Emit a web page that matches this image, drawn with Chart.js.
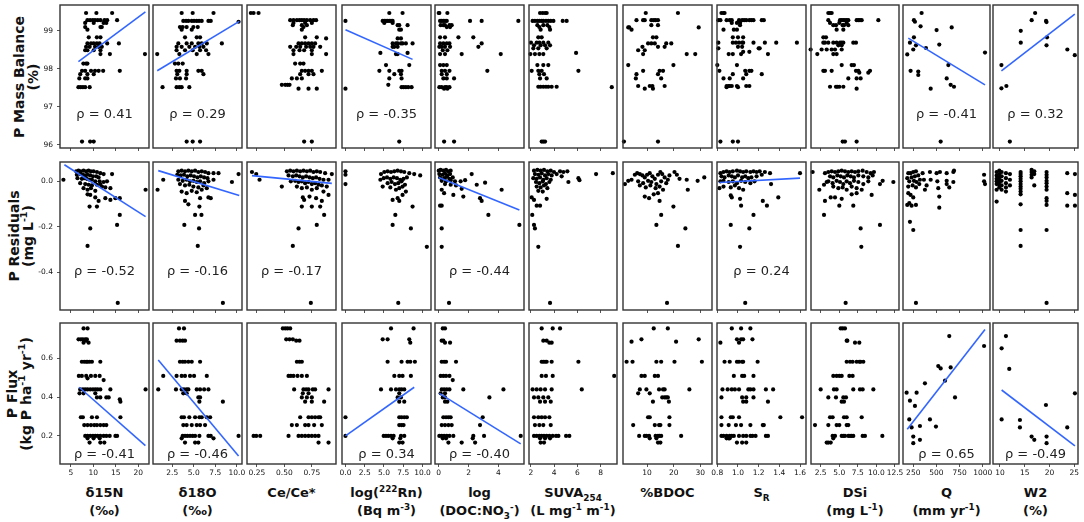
<!DOCTYPE html>
<html>
<head>
<meta charset="utf-8">
<script src="https://cdn.jsdelivr.net/npm/chart.js@4.4.1/dist/chart.umd.min.js"></script>
<style>
  body { margin: 0; background: #fff; width: 1084px; height: 522px; position: relative; overflow: hidden; font-family: "DejaVu Sans", Verdana, sans-serif; color: #111; }
  canvas.panel { position: absolute; }
  .ytitle { position: absolute; font-weight: bold; font-size: 14px; line-height: 14px; text-align: center; white-space: nowrap; transform: translate(-50%, -50%) rotate(-90deg); }
  .xtitle { position: absolute; font-weight: bold; font-size: 13px; line-height: 18px; text-align: center; white-space: nowrap; transform: translateX(-50%); }
  sup, sub { font-size: 68%; line-height: 0; }
</style>
</head>
<body>
<script>
// Helpers to turn the grouped readings into {x, y} points
function levels(rows) { return rows.flatMap(([y, xs]) => xs.map(x => ({ x: x, y: y }))); }
function columns(rows) { return rows.flatMap(([x, ys]) => ys.map(y => ({ x: x, y: y }))); }
function pairs(list) { return list.map(([x, y]) => ({ x: x, y: y })); }
function line(list) { return list ? pairs(list) : null; }

// ---------- Axis setup ----------
const xNames = ['δ15N<br>(‰)', 'δ18O<br>(‰)', 'Ce/Ce*', 'log(<sup>222</sup>Rn)<br>(Bq m<sup>-3</sup>)',
  'log<br>(DOC:NO<sub>3</sub><sup>-</sup>)', 'SUVA<sub>254</sub><br>(L mg<sup>-1</sup> m<sup>-1</sup>)', '%BDOC',
  'S<sub>R</sub>', 'DSi<br>(mg L<sup>-1</sup>)', 'Q<br>(mm yr<sup>-1</sup>)', 'W2<br>(%)'];
const yNames = ['P Mass Balance<br>(%)', 'P Residuals<br>(mg L<sup>-1</sup>)', 'P Flux<br>(kg P ha<sup>-1</sup> yr<sup>-1</sup>)'];

const xRanges = [[2.6, 22.4], [0.26, 10.6], [0.16, 0.97], [-0.45, 11.1], [-0.25, 5.72], [1.83, 9.4],
  [0.95, 34.4], [0.797, 1.658], [1.2, 13.04], [139, 1079], [8.6, 25.75]];
const xTicks = [[5, 10, 15, 20], [2.5, 5, 7.5, 10], [0.25, 0.5, 0.75], [0, 2.5, 5, 7.5, 10], [0, 2, 4], [2, 4, 6, 8],
  [10, 20, 30], [0.8, 1.0, 1.2, 1.4, 1.6], [2.5, 5, 7.5, 10, 12.5], [250, 500, 750, 1000], [10, 15, 20, 25]];
const xTickLabels = [['5', '10', '15', '20'], ['2.5', '5.0', '7.5', '10.0'], ['0.25', '0.50', '0.75'],
  ['0.0', '2.5', '5.0', '7.5', '10.0'], ['0', '2', '4'], ['2', '4', '6', '8'], ['10', '20', '30'],
  ['0.8', '1.0', '1.2', '1.4', '1.6'], ['2.5', '5.0', '7.5', '10.0', '12.5'], ['250', '500', '750', '1000'],
  ['10', '15', '20', '25']];

const yRanges = [[95.92, 99.68], [-0.567, 0.084], [0.056, 0.78]];
const yTicks = [[96, 97, 98, 99], [-0.4, -0.2, 0.0], [0.2, 0.4, 0.6]];
const yTickLabels = [['96', '97', '98', '99'], ['-0.4', '-0.2', '0.0'], ['0.2', '0.4', '0.6']];

// ---------- Row 1: P mass balance (%) ----------
const balance_d15N = levels([[99.47, [8.4, 10.7, 14.2]], [99.28, [8.7, 9.3, 9.9, 10.4, 11.0, 11.6, 12.5, 13.1, 15.3]],
  [99.21, [8.2, 10.1, 12.3, 12.9]], [99.10, [8.2, 11.6, 11.9]], [99.03, [8.7]], [98.83, [9.0, 10.8, 11.6]],
  [98.67, [8.7, 9.5, 10.1, 10.8, 11.4, 13.1, 15.7]], [98.58, [8.4, 9.2, 10.4, 11.2, 11.9]], [98.49, [8.2, 8.7, 10.1, 11.6]],
  [98.39, [11.6, 13.7, 21.5]], [98.14, [7.8, 8.4, 8.7]], [97.95, [7.5, 8.2, 9.5, 10.4, 11.2, 12.2, 15.9]],
  [97.86, [7.1, 8.7, 10.1]], [97.75, [6.9, 8.2, 8.7]], [97.52, [6.7, 7.2, 7.7, 8.2, 9.2]], [96.09, [7.5, 9.3, 10.1]]]);
const balance_d18O = levels([[99.47, [3.59, 4.87, 7.29]], [99.26, [3.78, 4.1, 4.37, 4.76, 5.03, 5.34, 5.61, 5.92, 6.7, 6.97]],
  [99.24, [10.2]], [99.10, [3.39, 3.71, 4.17, 4.95, 5.46]], [99.03, [3.59, 4.76]], [98.83, [3.98, 5.34, 5.73]],
  [98.67, [3.2, 4.17, 4.76, 5.53, 5.92, 6.51, 8.26]], [98.58, [3.0, 3.59, 4.48, 5.15, 5.65, 6.12]],
  [98.49, [3.0, 3.98, 4.87, 5.73, 6.43]], [98.39, [0.75, 3.32, 5.34, 6.7]], [98.14, [2.81, 3.2, 3.71]],
  [97.95, [3.0, 3.32, 4.17, 5.53, 5.92]], [97.86, [3.08, 4.17, 6.12]], [97.75, [2.93, 3.39, 4.1]],
  [97.52, [1.37, 3.0, 3.32, 3.59, 4.48]], [96.09, [4.17, 4.87, 5.73]]]);
const balance_ce = levels([[99.47, [0.195, 0.22, 0.265]], [99.28, [0.553, 0.583, 0.614, 0.638, 0.659, 0.68, 0.705, 0.735, 0.765, 0.789]],
  [99.21, [0.583, 0.689, 0.75]], [99.15, [0.577, 0.659, 0.705]], [99.10, [0.674]], [99.03, [0.659]], [98.83, [0.689, 0.795]],
  [98.80, [0.88]], [98.67, [0.629, 0.659, 0.689, 0.72, 0.75, 0.78]], [98.58, [0.553, 0.608, 0.644, 0.698, 0.735, 0.765, 0.826]],
  [98.49, [0.583, 0.638, 0.68, 0.75]], [98.39, [0.583, 0.75, 0.88]], [98.14, [0.598, 0.644, 0.674]],
  [97.95, [0.659, 0.689, 0.72, 0.75, 0.841]], [97.86, [0.644, 0.72, 0.765]], [97.75, [0.568, 0.614, 0.659]],
  [97.58, [0.477, 0.508, 0.529, 0.547]], [97.48, [0.629, 0.72, 0.795]], [96.09, [0.68, 0.75]]]);
const balance_rn = levels([[99.47, [5.69, 7.41]], [99.26, [0, 4.83, 5.04, 5.26, 5.47, 5.69, 5.91, 6.12]], [99.21, [5.04, 6.12]],
  [99.15, [6.77, 6.98, 8.06]], [99.03, [6.98, 7.2]], [98.80, [6.77, 7.2]], [98.67, [6.12, 6.55, 6.77, 7.2, 7.41, 7.84, 8.71]],
  [98.58, [6.12, 6.34, 6.77]], [98.42, [4.53, 8.06]], [98.39, [6.55, 6.77]], [98.10, [5.26, 8.28]],
  [97.95, [4.4, 5.69, 6.98, 7.28]], [97.86, [6.34, 7.2]], [97.75, [5.69, 7.28]], [97.58, [5.56]],
  [97.52, [7.28, 7.54, 7.84, 8.15, 8.58]], [97.48, [0]], [96.09, [6.98]]]);
const balance_doc = levels([[99.47, [0.0, 0.04, 0.58]], [99.26, [0.09, 0.2, 0.31, 0.42, 0.54, 2.1, 2.88, 5.34]],
  [99.15, [0.13, 0.31, 0.42, 0.72, 0.87]], [99.10, [0.54, 0.76]], [98.83, [0.09, 0.42, 1.32, 2.32]],
  [98.67, [0.09, 0.31, 0.54, 0.72, 2.88]], [98.58, [0.04, 0.2, 0.42, 0.76, 2.66]], [98.49, [0.27, 0.58]],
  [98.39, [0.09, 0.42, 1.54, 4.16]], [98.10, [0.09, 0.31, 0.54]], [97.95, [0.2, 0.42, 0.72, 3.26]], [97.86, [0.2, 0.54]],
  [97.75, [0.31, 0.54, 1.03]], [97.52, [0.04, 0.2, 0.42, 0.54, 0.72]], [97.48, [0.36, 0.58]], [96.09, [0.36, 1.03]]]);
const balance_suva = levels([[99.47, [2.78, 3.01, 3.21, 3.35]], [99.26, [2.14, 2.34, 2.55, 2.72, 2.92, 3.06, 3.29, 3.49, 3.7, 3.93, 4.73, 5.07]],
  [99.15, [2.55, 3.06, 3.41]], [99.10, [2.72, 3.58]], [99.03, [2.83, 3.64]], [98.83, [2.63, 2.92]],
  [98.69, [2.0, 2.49, 2.72, 3.06, 3.49]], [98.62, [2.26, 2.83, 3.21, 3.64]], [98.54, [2.2, 2.63, 3.35]], [98.42, [5.88]],
  [98.39, [1.95, 2.34, 2.72, 3.06]], [98.10, [2.55, 3.06, 3.49]], [97.95, [2.06, 2.63, 2.92, 6.08]], [97.86, [2.72, 3.12]],
  [97.75, [2.78, 3.35]], [97.53, [2.63, 2.83, 3.06, 3.29, 3.49, 3.78, 4.21]], [97.52, [8.95]], [96.09, [2.92, 3.06, 3.21]]]);
const balance_bdoc = levels([[99.47, [9.5, 21.6]], [99.28, [6.02, 8.51, 9.13, 11.6, 12.5, 13.2, 14.1]], [99.15, [11.6, 14.1]],
  [99.09, [2.92, 3.29, 29.4]], [99.03, [4.16]], [98.83, [12.2, 13.5]], [98.67, [10.37, 11.6, 12.9, 17.2, 19.1]],
  [98.58, [8.26, 14.1, 16.6]], [98.49, [6.65, 9.13]], [98.39, [8.51, 24.9, 28.1]], [98.10, [2.92, 19.9]],
  [97.95, [8.51, 14.7, 16.0]], [97.86, [6.02, 14.1]], [97.75, [5.78, 15.3]], [97.55, [6.65, 11.0, 12.0, 16.6]],
  [97.48, [9.13, 12.2]], [96.09, [1.3, 14.1]]]);
const balance_sr = levels([[99.47, [0.84, 0.86, 0.87]],
  [99.28, [0.81, 0.83, 0.89, 0.92, 0.94, 1.01, 1.04, 1.06, 1.08, 1.11, 1.13, 1.15, 1.23, 1.25]], [99.21, [0.94, 0.99, 1.02]],
  [99.15, [1.02]], [99.03, [0.86, 0.96, 0.99]], [98.83, [0.95, 1.0, 1.05]],
  [98.69, [0.81, 0.95, 0.98, 1.01, 1.04, 1.05, 1.15, 1.26, 1.37, 1.57]], [98.58, [1.0, 1.04]], [98.54, [0.81, 1.2, 1.21]],
  [98.45, [1.05, 1.11]], [98.39, [0.91, 0.95, 1.03, 1.29]], [98.10, [0.8, 0.99]], [97.95, [0.82, 1.07, 1.11, 1.13]],
  [97.86, [0.95, 1.08, 1.23]], [97.75, [0.86, 0.92, 1.05]], [97.55, [0.89, 0.91, 0.92, 0.94, 0.99, 1.08, 1.11]],
  [97.52, [0.89, 1.0]], [96.09, [0.83, 0.95, 1.0]]]);
const balance_dsi = levels([[99.47, [3.53, 3.76, 3.98]], [99.28, [3.53, 5.1, 5.33, 5.55, 5.77, 6.0, 6.22, 7.34, 7.57, 7.79, 8.02, 10.26]],
  [99.21, [3.76, 5.01, 6.0]], [99.15, [4.2, 4.56, 5.46, 5.64, 6.22]], [99.03, [4.65, 5.55]], [98.83, [2.86, 3.22]],
  [98.69, [2.86, 3.08, 3.53, 4.2, 4.65, 5.1, 5.33, 5.55, 6.89, 7.25]], [98.62, [4.88, 5.33]],
  [98.51, [1.15, 2.63, 3.31, 3.98, 4.43, 5.33]], [98.39, [2.05, 4.2, 4.65]], [98.10, [5.33, 6.67, 6.98]],
  [97.95, [2.86, 3.08, 3.98, 7.25, 7.57, 9.14]], [97.90, [7.7, 8.91]], [97.75, [6.22, 7.34, 7.88]],
  [97.53, [3.76, 4.56, 4.74, 5.01, 5.55]], [97.48, [7.34]], [96.09, [5.46, 5.77, 7.34]]]);
const balance_q = pairs([[340, 99.47], [257, 99.28], [268, 99.24], [502, 99.02], [665, 99.09], [329, 99.12], [257, 98.83],
  [214, 98.69], [279, 98.62], [387, 98.55], [531, 98.64], [185, 98.38], [250, 98.51], [1025, 98.43], [629, 98.10],
  [221, 97.95], [304, 97.93], [304, 97.84], [611, 97.75], [438, 97.48], [654, 97.58], [690, 97.53], [546, 96.09]]);
const balance_w2 = pairs([[17.1, 99.47], [16.4, 99.28], [19.3, 99.26], [19.4, 99.23], [14.2, 99.0], [14.2, 98.69],
  [19.5, 98.83], [19.4, 98.62], [23.6, 98.51], [25.1, 98.36], [10.3, 98.1], [10.3, 97.49], [11.3, 97.55], [12.0, 96.09]]);

const balanceFits = [[[6.7, 98.19], [21.6, 99.50]], [[0.75, 97.95], [10.28, 99.25]], null, [[0, 99.03], [8.71, 98.25]],
  null, null, null, null, null, [[196, 98.81], [1025, 97.58]], [[10.3, 97.95], [25.1, 99.44]]];
const balanceRho = ['ρ = 0.41', 'ρ = 0.29', '', 'ρ = -0.35', '', '', '', '', '', 'ρ = -0.41', 'ρ = 0.32'];

// ---------- Row 2: P residuals (mg/L) ----------
const resid_d15N = pairs([[3.36, 0.006], [6.19, 0.043], [6.72, 0.046], [7.24, 0.043], [7.84, 0.046], [8.43, 0.043], [8.96, 0.046],
  [9.48, 0.043], [10.07, 0.043], [10.82, 0.040], [11.57, 0.035], [12.31, 0.031], [14.18, 0.031], [6.34, 0.028], [7.09, 0.031],
  [7.69, 0.028], [8.21, 0.025], [8.73, 0.028], [9.33, 0.025], [9.93, 0.021], [10.67, 0.021], [11.19, 0.016], [6.49, 0.013],
  [7.46, 0.010], [7.99, 0.013], [8.58, 0.010], [9.18, 0.006], [9.7, 0.006], [10.45, -0.001], [11.42, -0.001], [12.31, -0.004],
  [13.06, -0.001], [7.09, -0.009], [8.21, -0.013], [8.96, -0.016], [9.7, -0.019], [10.82, -0.016], [11.57, -0.013],
  [11.94, -0.024], [7.84, -0.031], [8.73, -0.038], [9.48, -0.031], [10.45, -0.043], [12.69, -0.028], [13.81, -0.031],
  [8.73, -0.058], [9.33, -0.061], [10.45, -0.072], [11.19, -0.087], [12.69, -0.075], [13.81, -0.083], [14.93, -0.075],
  [15.9, -0.075], [9.18, -0.112], [10.82, -0.112], [15.9, -0.149], [9.33, -0.208], [15.3, -0.193], [8.73, -0.285],
  [21.64, -0.038], [15.45, -0.536]]);
const resid_d18O = pairs([[0.79, -0.038], [1.45, 0.006], [3.2, 0.043], [3.59, 0.046], [3.98, 0.043], [4.37, 0.046], [4.76, 0.043],
  [5.15, 0.046], [5.53, 0.040], [5.92, 0.043], [6.31, 0.040], [6.7, 0.035], [7.29, 0.035], [7.87, 0.035], [10.2, 0.031],
  [3.08, 0.028], [3.47, 0.025], [3.86, 0.028], [4.25, 0.021], [4.64, 0.025], [5.03, 0.021], [5.42, 0.016], [5.81, 0.021],
  [6.2, 0.016], [6.59, 0.013], [3.2, 0.006], [3.71, 0.001], [4.17, 0.006], [4.56, -0.001], [4.95, 0.001], [5.34, -0.004],
  [5.73, -0.001], [6.2, -0.009], [6.7, -0.001], [7.29, 0.006], [9.43, -0.004], [3.39, -0.013], [3.98, -0.019], [4.48, -0.016],
  [4.95, -0.024], [5.53, -0.028], [6.12, -0.019], [6.51, -0.031], [3.59, -0.046], [4.17, -0.053], [4.76, -0.043],
  [5.34, -0.049], [5.92, -0.038], [3.98, -0.087], [4.37, -0.102], [5.73, -0.075], [6.7, -0.072], [6.97, -0.075],
  [5.65, -0.112], [5.15, -0.149], [5.89, -0.149], [3.9, -0.193], [5.61, -0.208], [5.46, -0.285], [8.38, -0.536]]);
const resid_ce = pairs([[0.205, 0.040], [0.244, 0.031], [0.274, 0.006], [0.477, -0.024], [0.523, 0.043], [0.553, 0.046],
  [0.583, 0.043], [0.614, 0.046], [0.644, 0.043], [0.674, 0.046], [0.705, 0.043], [0.735, 0.046], [0.765, 0.040],
  [0.795, 0.043], [0.826, 0.040], [0.871, 0.035], [0.932, 0.031], [0.538, 0.025], [0.577, 0.021], [0.608, 0.025],
  [0.638, 0.021], [0.668, 0.016], [0.698, 0.021], [0.729, 0.016], [0.759, 0.013], [0.789, 0.016], [0.82, 0.010],
  [0.856, 0.006], [0.902, 0.006], [0.559, -0.001], [0.598, 0.001], [0.629, -0.004], [0.659, -0.001], [0.689, -0.009],
  [0.72, -0.004], [0.75, -0.013], [0.78, -0.009], [0.811, -0.016], [0.841, -0.019], [0.886, -0.024], [0.614, -0.024],
  [0.659, -0.031], [0.705, -0.028], [0.75, -0.038], [0.795, -0.031], [0.856, -0.046], [0.902, -0.061], [0.668, -0.072],
  [0.68, -0.083], [0.729, -0.068], [0.789, -0.075], [0.841, -0.087], [0.659, -0.112], [0.75, -0.112], [0.826, -0.112],
  [0.862, -0.149], [0.629, -0.208], [0.795, -0.193], [0.577, -0.285], [0.741, -0.536]]);
const resid_rn = pairs([[0, 0.043], [0, 0.028], [0, -0.013], [4.61, 0.031], [5.04, 0.040], [5.47, 0.043], [5.91, 0.040],
  [6.34, 0.043], [6.77, 0.046], [7.2, 0.043], [7.63, 0.040], [8.28, 0.035], [8.92, 0.031], [9.7, 0.025], [4.53, 0.006],
  [4.96, 0.013], [5.39, 0.016], [5.82, 0.010], [6.25, 0.016], [6.68, 0.013], [7.11, 0.006], [7.54, 0.010], [7.97, 0.016],
  [4.83, -0.024], [5.47, -0.009], [5.99, -0.004], [6.42, -0.013], [6.85, -0.009], [7.28, -0.001], [7.72, -0.016],
  [5.82, -0.028], [6.55, -0.038], [6.98, -0.031], [7.41, -0.024], [7.84, -0.046], [6.12, -0.083], [6.77, -0.075],
  [6.98, -0.087], [7.41, -0.061], [8.71, -0.112], [6.47, -0.149], [6.12, -0.193], [8.49, -0.208], [10.56, -0.289],
  [6.85, -0.536]]);
const resid_doc = pairs([[0.0, 0.046], [0.13, 0.049], [0.31, 0.046], [0.49, 0.049], [0.65, 0.043], [0.8, 0.046], [0.04, 0.031],
  [0.27, 0.028], [0.42, 0.034], [0.58, 0.025], [0.76, 0.031], [0.09, 0.016], [0.36, 0.013], [0.54, 0.019], [0.72, 0.010],
  [0.94, 0.016], [0.2, 0.001], [0.49, -0.001], [0.8, 0.004], [1.09, -0.001], [0.42, -0.013], [0.8, -0.016], [1.16, -0.019],
  [1.47, -0.001], [1.77, 0.004], [2.21, 0.031], [2.55, -0.016], [3.11, -0.007], [1.54, -0.034], [1.65, -0.068],
  [0.2, -0.038], [0.36, -0.053], [0.98, -0.061], [2.77, -0.075], [2.88, -0.087], [4.22, -0.038], [0.2, -0.108],
  [0.09, -0.108], [3.33, -0.149], [0.2, -0.208], [0.2, -0.289], [5.41, -0.193], [0.69, -0.536]]);
const resid_suva = pairs([[2.26, 0.046], [2.55, 0.049], [2.83, 0.046], [3.12, 0.049], [3.41, 0.043], [3.7, 0.046], [3.98, 0.040],
  [2.34, 0.031], [2.63, 0.028], [2.92, 0.034], [3.21, 0.025], [3.49, 0.031], [3.78, 0.025], [4.21, 0.031], [2.2, 0.013],
  [2.49, 0.010], [2.78, 0.016], [3.06, 0.006], [3.35, 0.013], [3.7, 0.006], [2.43, -0.004], [2.72, -0.009], [3.01, -0.001],
  [3.29, -0.013], [3.58, -0.004], [2.49, -0.024], [2.83, -0.028], [3.12, -0.019], [3.41, -0.031], [2.63, -0.043],
  [3.01, -0.046], [4.5, 0.043], [4.79, 0.040], [5.13, 0.043], [4.64, 0.021], [5.22, -0.004], [6.08, 0.013], [6.17, 0.004],
  [7.6, 0.031], [9.04, 0.035], [2.06, -0.072], [2.26, -0.083], [2.49, -0.108], [2.78, -0.108], [3.35, -0.078],
  [2.11, -0.149], [2.26, -0.193], [2.34, -0.208], [2.63, -0.289], [3.64, -0.536]]);
const resid_bdoc = pairs([[1.68, -0.013], [2.92, 0.001], [4.16, 0.006], [5.4, 0.028], [6.27, 0.035], [7.27, 0.031], [8.26, 0.025],
  [9.13, 0.016], [10.0, 0.028], [11.0, 0.035], [12.0, 0.021], [12.9, 0.010], [14.1, 0.028], [15.0, 0.040], [15.7, 0.031],
  [16.6, 0.016], [17.8, 0.006], [18.4, 0.025], [20.3, 0.040], [21.2, 0.028], [22.2, 0.010], [24.9, 0.006], [29.0, 0.001],
  [31.5, 0.016], [6.65, -0.001], [8.51, -0.009], [10.37, 0.001], [11.6, -0.004], [13.5, -0.013], [15.3, -0.001],
  [17.2, -0.009], [7.27, -0.019], [9.5, -0.028], [11.24, -0.019], [13.2, -0.031], [14.7, -0.024], [16.0, -0.038],
  [9.13, -0.068], [10.75, -0.075], [12.5, -0.058], [14.1, -0.053], [14.7, -0.087], [25.3, -0.038], [19.9, -0.112],
  [15.3, -0.149], [13.5, -0.193], [24.4, -0.208], [21.6, -0.285], [17.5, -0.536]]);
const resid_sr = pairs([[0.83, 0.035], [0.86, 0.040], [0.89, 0.043], [0.92, 0.040], [0.95, 0.043], [0.99, 0.046], [1.02, 0.043],
  [1.05, 0.040], [1.08, 0.043], [1.12, 0.040], [1.15, 0.043], [1.18, 0.040], [1.21, 0.043], [1.26, 0.040], [1.31, 0.035],
  [1.6, 0.035], [0.84, 0.021], [0.87, 0.016], [0.91, 0.025], [0.94, 0.021], [0.97, 0.016], [1.0, 0.025], [1.04, 0.016],
  [1.07, 0.021], [1.1, 0.013], [1.13, 0.016], [1.18, 0.021], [1.23, 0.028], [0.83, -0.001], [0.86, 0.001], [0.91, -0.004],
  [0.95, -0.001], [0.99, -0.009], [1.03, 0.001], [1.07, -0.004], [1.12, -0.009], [1.16, -0.001], [1.32, -0.013],
  [0.82, -0.031], [0.86, -0.024], [0.93, -0.028], [0.97, -0.019], [1.01, -0.031], [1.05, -0.038], [0.93, -0.063],
  [0.94, -0.072], [1.02, -0.078], [1.03, -0.108], [1.15, -0.149], [1.24, -0.087], [1.28, -0.108], [1.39, -0.072],
  [0.93, -0.193], [1.11, -0.208], [1.02, -0.289], [1.07, -0.536]]);
const resid_dsi = pairs([[1.42, 0.040], [2.32, -0.038], [2.95, -0.016], [3.31, -0.004], [3.08, -0.087], [3.85, -0.072],
  [4.43, -0.072], [5.01, -0.108], [5.33, -0.078], [2.95, -0.149], [6.89, -0.108], [6.67, -0.058], [7.34, -0.053],
  [8.02, -0.038], [9.36, -0.061], [10.48, -0.013], [10.84, 0.001], [12.28, -0.004], [7.88, -0.208], [7.97, -0.289],
  [10.48, -0.193], [5.86, -0.536], [3.08, 0.035], [3.53, 0.040], [3.98, 0.043], [4.43, 0.040], [4.88, 0.043], [5.33, 0.046],
  [5.77, 0.043], [6.22, 0.040], [6.67, 0.043], [7.12, 0.040], [7.57, 0.043], [8.15, 0.046], [8.69, 0.040], [9.23, 0.035],
  [9.67, 0.040], [3.76, 0.021], [4.2, 0.016], [4.74, 0.025], [5.19, 0.021], [5.64, 0.016], [6.09, 0.025], [6.54, 0.021],
  [6.98, 0.016], [7.57, 0.025], [8.24, 0.021], [8.91, 0.016], [9.5, 0.025], [3.53, -0.001], [4.11, -0.009], [4.65, 0.001],
  [5.1, -0.004], [5.55, -0.013], [6.0, -0.001], [6.45, -0.009], [6.98, 0.001], [7.57, -0.004], [8.24, -0.013],
  [8.91, -0.001], [4.2, -0.024], [4.88, -0.031], [5.46, -0.028], [6.0, -0.038], [6.67, -0.024], [7.34, -0.031]]);
const resid_q = pairs([[196, 0.035], [221, 0.035], [250, 0.040], [279, 0.043], [185, 0.013], [232, 0.016], [268, 0.021],
  [304, 0.025], [207, -0.001], [257, 0.001], [286, -0.004], [322, 0.006], [196, -0.024], [243, -0.019], [279, -0.028],
  [315, -0.013], [196, -0.053], [221, -0.061], [250, -0.072], [207, -0.097], [232, -0.108], [185, -0.105], [279, -0.105],
  [214, -0.179], [250, -0.215], [279, -0.536], [351, 0.035], [430, 0.040], [502, 0.035], [538, 0.040], [611, 0.035],
  [683, 0.040], [690, 0.046], [365, 0.006], [438, 0.006], [510, -0.001], [611, 0.001], [683, -0.004], [394, -0.019],
  [520, -0.031], [611, -0.013], [639, -0.028], [531, -0.068], [531, -0.117], [1015, 0.028], [1015, -0.001], [1025, -0.013],
  [376, -0.038]]);
const resid_w2 = columns([[9.33, [0.040, 0.025, 0.010, -0.001, -0.013, -0.038, -0.090]],
  [9.87, [0.046, 0.031, 0.016, 0.006, -0.004, -0.016, -0.028]], [10.34, [0.040, 0.021, 0.001, -0.019, -0.038]],
  [11.21, [0.035, 0.013, -0.009, -0.028, -0.046]], [12.02, [0.031, 0.006, -0.019]],
  [14.17, [0.040, 0.031, 0.021, 0.010, -0.001, -0.013, -0.024, -0.034, -0.046, -0.058, -0.102, -0.215, -0.285]],
  [16.39, [0.050, 0.040, 0.028, 0.016]], [16.93, [0.043, 0.031, -0.019]],
  [19.41, [0.040, 0.028, 0.016, 0.001, -0.009, -0.024, -0.038, -0.075, -0.087, -0.105, -0.215, -0.536]],
  [23.58, [0.035, -0.053, -0.108]], [25.13, [0.031, -0.061, -0.108]]]);

const residFits = [[[3.58, 0.072], [21.64, -0.156]], [[0.87, 0.046], [10.28, -0.063]], [[0.205, 0.024], [0.932, -0.010]],
  null, [[0, 0.016], [5.41, -0.127]], null, null, [[0.82, -0.006], [1.6, 0.013]], null, null, null];
const residRho = ['ρ = -0.52', 'ρ = -0.16', 'ρ = -0.17', '', 'ρ = -0.44', '', '', 'ρ = 0.24', '', '', ''];

// ---------- Row 3: P flux (kg P/ha/yr) ----------
const flux_d15N = levels([[0.752, [7.84, 8.73]], [0.696, [6.72, 7.24, 7.69, 8.21, 8.58]], [0.689, [8.43]], [0.679, [7.84, 8.96]],
  [0.581, [7.46, 7.99, 8.43, 8.73, 9.18, 9.7, 11.57]], [0.508, [6.79, 7.46, 8.43, 9.48, 10.45, 11.42]], [0.496, [8.73]],
  [0.487, [12.31]], [0.439, [7.09, 7.69, 8.21, 8.73, 9.33, 9.93, 10.45, 10.97, 11.57, 13.81, 21.64]],
  [0.419, [6.94, 7.84, 10.45]], [0.398, [10.82, 11.57, 12.91, 13.43]], [0.388, [15.9]], [0.376, [16.04]],
  [0.296, [7.24, 7.69, 9.7, 10.82, 16.04]], [0.256, [7.99, 8.73, 9.48, 10.22, 10.82, 11.57, 12.31, 12.91]],
  [0.200, [8.21, 8.73, 9.33, 9.93, 10.45, 10.97, 11.57, 12.31, 12.91, 13.66, 14.93, 15.3]], [0.188, [8.73, 10.07, 11.42]],
  [0.166, [9.18, 11.57, 12.46]]]);
const flux_d18O = levels([[0.752, [3.28, 3.86]], [0.689, [3.0, 3.39, 3.71, 3.98]], [0.581, [3.39, 3.71, 3.98, 4.37, 4.76, 5.73]],
  [0.508, [1.45, 3.0, 3.59, 3.98, 4.56, 5.03, 6.51]], [0.439, [0.87, 2.93, 3.59, 3.86, 4.17, 4.37, 5.34, 5.73, 6.2, 6.7]],
  [0.419, [3.78, 4.17]], [0.398, [5.53, 5.73]], [0.376, [5.65, 8.38]], [0.296, [3.59, 3.86, 4.48, 5.15, 5.65, 5.92, 6.51, 6.9]],
  [0.256, [3.78, 4.17, 4.76, 5.34, 5.73, 6.31]], [0.200, [3.71, 3.98, 4.25, 4.56, 4.87, 5.15, 5.65, 6.7, 6.97, 10.2]],
  [0.188, [3.59, 7.29]], [0.166, [3.98, 5.15, 5.53]]]);
const flux_ce = levels([[0.752, [0.486, 0.508, 0.529, 0.553]], [0.696, [0.517, 0.547, 0.577]], [0.689, [0.608, 0.638]],
  [0.581, [0.614, 0.638, 0.659]], [0.508, [0.538, 0.559, 0.583, 0.62, 0.659, 0.705]],
  [0.439, [0.589, 0.674, 0.698, 0.72, 0.759, 0.78, 0.902]], [0.419, [0.668, 0.72]], [0.398, [0.659, 0.705, 0.75]],
  [0.376, [0.689, 0.75, 0.862]], [0.296, [0.644, 0.72, 0.75, 0.78, 0.811, 0.826]],
  [0.256, [0.568, 0.614, 0.689, 0.72, 0.771, 0.841]],
  [0.200, [0.22, 0.244, 0.28, 0.538, 0.629, 0.659, 0.689, 0.72, 0.75, 0.78, 0.811]], [0.166, [0.811, 0.902]]]);
const flux_rn = levels([[0.752, [5.91, 8.84]], [0.696, [4.83, 5.47, 8.28]], [0.679, [8.41]], [0.581, [5.47, 7.28, 8.06, 8.41, 9.01]],
  [0.508, [6.34, 6.98, 7.41, 8.49]], [0.439, [4.61, 5.91, 6.55, 6.98, 7.28, 7.63]], [0.419, [6.98]], [0.398, [6.77, 7.2]],
  [0.376, [6.98, 7.63]], [0.296, [0, 6.98, 7.28, 7.63, 7.97]], [0.256, [6.98, 7.28, 7.54]],
  [0.200, [0, 4.96, 5.26, 5.56, 5.91, 6.25, 7.2, 7.63]], [0.188, [6.12, 7.11]], [0.166, [6.98, 7.41]]]);
const flux_doc = levels([[0.752, [0.27, 0.42]], [0.689, [0.2, 0.31]], [0.679, [0.42, 0.76]], [0.581, [0.2, 0.36, 0.49, 1.16]],
  [0.508, [0.13, 0.31, 0.49, 0.72]], [0.487, [0.94]], [0.439, [0.2, 0.36, 0.54, 0.72, 1.65, 4.34]], [0.419, [0.13, 0.42]],
  [0.398, [0.27, 0.42, 3.4]], [0.376, [0.42, 0.58]], [0.296, [0.31, 0.49, 0.65, 0.8, 2.95]], [0.256, [0.2, 0.42, 0.65, 0.87, 2.77]],
  [0.200, [0.04, 0.2, 0.36, 0.54, 0.72, 0.98, 2.32, 3.04, 5.5]], [0.188, [0.27, 0.49, 2.28]], [0.166, [0.65, 1.54, 2.44]]]);
const flux_suva = levels([[0.752, [2.92, 3.87, 4.5]], [0.689, [3.06, 3.35]], [0.679, [3.58, 3.78]],
  [0.581, [2.92, 3.06, 3.21, 3.35, 3.78, 6.08]], [0.508, [2.92, 3.29, 3.87, 9.16]], [0.439, [2.14, 2.49, 2.83, 3.21, 3.78, 6.37]],
  [0.398, [2.26, 2.63, 3.06, 3.49]], [0.376, [2.78, 3.21, 3.7]], [0.296, [2.26, 2.63, 2.92, 3.21, 3.58]],
  [0.256, [2.34, 2.72, 3.06, 3.7]], [0.200, [2.26, 2.49, 2.72, 2.92, 3.12, 3.35, 3.58, 3.87, 4.16, 4.36, 5.02, 5.3]],
  [0.188, [2.78, 3.21, 3.64]], [0.166, [2.83, 3.12]]]);
const flux_bdoc = levels([[0.752, [12.5, 17.8]], [0.696, [7.89, 29.4]], [0.684, [4.16, 20.9]], [0.581, [2.3, 4.53, 13.5, 15.3, 20.3, 30.6]],
  [0.508, [7.89, 9.13, 12.9, 14.1]], [0.439, [7.27, 9.75, 14.5, 16.0, 16.6, 25.9]], [0.419, [6.65, 11.0]],
  [0.398, [15.7, 16.6, 17.2, 17.8]], [0.376, [12.2, 18.2]], [0.296, [10.37, 11.0, 18.4]], [0.256, [4.78, 12.9, 14.5, 15.0, 18.4]],
  [0.200, [7.02, 9.13, 9.75, 10.75, 13.2, 14.1, 14.7, 15.3, 22.8]], [0.188, [11.0, 13.5]], [0.166, [14.1, 15.0]]]);
const flux_sr = levels([[0.752, [0.94, 1.03, 1.12]], [0.696, [0.99, 1.03, 1.05, 1.14]], [0.679, [0.83, 1.01]],
  [0.581, [0.87, 0.92, 0.99, 1.01, 1.04, 1.05, 1.19]], [0.508, [0.96, 1.04, 1.06, 1.15]],
  [0.439, [0.85, 0.9, 0.94, 0.97, 1.01, 1.1, 1.12, 1.15, 1.27, 1.34]], [0.398, [0.84, 1.04, 1.08, 1.15]],
  [0.376, [1.05, 1.08, 1.29]], [0.296, [0.84, 0.93, 0.95, 1.01, 1.41, 1.62]], [0.256, [0.84, 0.91, 0.98, 1.03, 1.12, 1.24, 1.25]],
  [0.200, [0.84, 0.86, 0.89, 0.92, 0.94, 0.96, 1.01, 1.05, 1.08, 1.12, 1.14, 1.17, 1.27, 1.29]], [0.188, [0.89, 0.91, 0.92]],
  [0.166, [0.99, 1.04, 1.08]]]);
const flux_dsi = levels([[0.752, [5.19, 5.46, 5.77]], [0.689, [6.0, 6.09]], [0.679, [7.12, 7.7]],
  [0.581, [6.0, 6.45, 6.8, 7.34, 7.7, 7.88, 8.24]], [0.508, [4.2, 4.65, 5.01, 5.33, 6.36, 6.8]],
  [0.439, [2.5, 4.29, 4.65, 6.89, 7.79, 8.15, 9.59]], [0.398, [3.53, 4.56, 5.55, 5.91]], [0.376, [5.33, 5.64]],
  [0.296, [3.76, 4.11, 5.64, 6.0, 8.02]], [0.256, [1.74, 3.53, 4.65, 5.01, 6.0, 6.22]],
  [0.200, [4.11, 4.43, 5.33, 5.55, 5.77, 6.22, 6.45, 6.67, 6.89, 8.15, 8.46, 10.8]], [0.188, [4.2]], [0.166, [3.31, 3.53, 3.85]]]);
const flux_q = pairs([[639, 0.713], [1015, 0.662], [520, 0.559], [546, 0.547], [654, 0.552], [593, 0.484], [376, 0.47],
  [286, 0.422], [178, 0.422], [214, 0.381], [268, 0.354], [701, 0.398], [207, 0.285], [430, 0.285], [322, 0.251],
  [232, 0.244], [495, 0.248], [250, 0.197], [322, 0.18], [250, 0.163]]);
const flux_w2 = pairs([[11.21, 0.713], [10.34, 0.65], [11.88, 0.544], [25.13, 0.419], [19.28, 0.359], [10.34, 0.285],
  [14.03, 0.282], [14.03, 0.244], [23.58, 0.244], [16.39, 0.197], [16.93, 0.18], [19.41, 0.197], [19.41, 0.163]]);

const fluxFits = [[[6.87, 0.45], [21.6, 0.15]], [[0.87, 0.59], [10.2, 0.097]], null, [[0, 0.2], [8.92, 0.45]],
  [[0.04, 0.419], [5.5, 0.159]], null, null, null, null, [[185, 0.234], [1025, 0.747]], [[10.34, 0.436], [25.13, 0.149]]];
const fluxRho = ['ρ = -0.41', 'ρ = -0.46', '', 'ρ = 0.34', 'ρ = -0.40', '', '', '', '', 'ρ = 0.65', 'ρ = -0.49'];

// ---------- Layout ----------
const colLeft = [60, 153, 247, 342, 435, 529, 623, 717, 811, 903, 993];
const colWidth = [89, 89, 89, 89, 89, 88, 89, 89, 88, 87, 85];
const rowTop = [5, 162, 323];
const rowHeight = [143, 148, 141];
const rhoPos = [0.77, 0.74, 0.93];
const yTitleX = [26, 21, 19];
const FONT = '"DejaVu Sans", Verdana, sans-serif';

document.addEventListener('DOMContentLoaded', function() {
  drawTitles();
  drawPanels();
});

// Axis titles as HTML text
function drawTitles() {
  yNames.forEach((name, r) => {
    const div = document.createElement('div');
    div.className = 'ytitle';
    div.innerHTML = name;
    div.style.left = yTitleX[r] + 'px';
    div.style.top = (rowTop[r] + rowHeight[r] / 2) + 'px';
    document.body.appendChild(div);
  });
  xNames.forEach((name, c) => {
    const div = document.createElement('div');
    div.className = 'xtitle';
    div.innerHTML = name;
    div.style.left = (colLeft[c] + colWidth[c] / 2) + 'px';
    div.style.top = '484px';
    document.body.appendChild(div);
  });
}

// rho label inside the panel
const rhoLabel = {
  id: 'rhoLabel',
  afterDatasetsDraw(chart, args, opts) {
    if (!opts.text) return;
    const a = chart.chartArea;
    const ctx = chart.ctx;
    ctx.save();
    ctx.font = '13px ' + FONT;
    ctx.fillStyle = '#222';
    ctx.textAlign = 'center';
    ctx.textBaseline = 'middle';
    ctx.fillText(opts.text, (a.left + a.right) / 2, a.top + opts.pos * (a.bottom - a.top));
    ctx.restore();
  }
};

// Panel frame
const panelBox = {
  id: 'panelBox',
  afterDraw(chart) {
    const a = chart.chartArea;
    const ctx = chart.ctx;
    ctx.save();
    ctx.strokeStyle = '#333';
    ctx.lineWidth = 1.4;
    ctx.strokeRect(a.left, a.top, a.right - a.left, a.bottom - a.top);
    ctx.restore();
  }
};

function drawPanels() {
  const rowData = [
    [balance_d15N, balance_d18O, balance_ce, balance_rn, balance_doc, balance_suva, balance_bdoc, balance_sr, balance_dsi, balance_q, balance_w2],
    [resid_d15N, resid_d18O, resid_ce, resid_rn, resid_doc, resid_suva, resid_bdoc, resid_sr, resid_dsi, resid_q, resid_w2],
    [flux_d15N, flux_d18O, flux_ce, flux_rn, flux_doc, flux_suva, flux_bdoc, flux_sr, flux_dsi, flux_q, flux_w2]
  ];
  const rowFits = [balanceFits, residFits, fluxFits];
  const rowRho = [balanceRho, residRho, fluxRho];

  for (let r = 0; r < 3; r++) {
    for (let c = 0; c < 11; c++) {
      const yAxisW = c === 0 ? 30 : 0;
      const padL = c === 0 ? 0 : 8;
      const padR = 10;
      const xAxisH = r === 2 ? 18 : 5;
      const canvas = document.createElement('canvas');
      canvas.className = 'panel';
      canvas.width = colWidth[c] + yAxisW + padL + padR;
      canvas.height = rowHeight[r] + 2 + xAxisH;
      canvas.style.left = (colLeft[c] - yAxisW - padL) + 'px';
      canvas.style.top = (rowTop[r] - 2) + 'px';
      document.body.appendChild(canvas);

      const datasets = [];
      const fit = line(rowFits[r][c]);
      if (fit) {
        datasets.push({ data: fit, showLine: true, borderColor: '#3366ff', borderWidth: 1.6, pointRadius: 0 });
      }
      datasets.push({ data: rowData[r][c], pointRadius: 2.1, pointBackgroundColor: '#000', pointBorderWidth: 0, clip: 3 });

      new Chart(canvas.getContext('2d'), {
        type: 'scatter',
        data: { datasets: datasets },
        options: {
          responsive: false,
          animation: false,
          events: [],
          layout: { padding: { top: 2, right: padR, bottom: 0, left: padL }, autoPadding: false },
          plugins: {
            legend: { display: false },
            tooltip: { enabled: false },
            rhoLabel: { text: rowRho[r][c], pos: rhoPos[r] }
          },
          scales: {
            x: {
              type: 'linear',
              min: xRanges[c][0],
              max: xRanges[c][1],
              afterBuildTicks: s => { s.ticks = xTicks[c].map(v => ({ value: v })); },
              afterFit: s => { s.height = xAxisH; s.paddingLeft = 0; s.paddingRight = 0; },
              grid: { display: true, drawOnChartArea: false, drawTicks: true, tickLength: 3, color: '#555', lineWidth: 1 },
              border: { display: false },
              ticks: {
                display: r === 2,
                autoSkip: false,
                maxRotation: 0,
                padding: 2,
                color: '#111',
                font: { family: FONT, size: 7.5 },
                callback: (v, i) => xTickLabels[c][i]
              }
            },
            y: {
              type: 'linear',
              display: c === 0,
              min: yRanges[r][0],
              max: yRanges[r][1],
              afterBuildTicks: s => { s.ticks = yTicks[r].map(v => ({ value: v })); },
              afterFit: s => {
                s.width = yAxisW;
                s.paddingTop = 0;
                s.paddingBottom = 0;
              },
              grid: { display: true, drawOnChartArea: false, drawTicks: true, tickLength: 3, color: '#555', lineWidth: 1 },
              border: { display: false },
              ticks: {
                autoSkip: false,
                padding: 4,
                color: '#111',
                font: { family: FONT, size: 7.5 },
                callback: (v, i) => yTickLabels[r][i]
              }
            }
          }
        },
        plugins: [rhoLabel, panelBox]
      });
    }
  }
}
</script>
</body>
</html>
